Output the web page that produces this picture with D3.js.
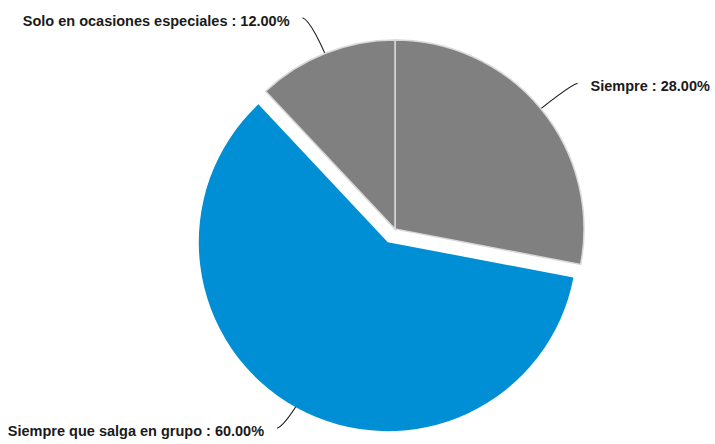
<!DOCTYPE html>
<html>
<head>
<meta charset="utf-8">
<script src="https://cdn.jsdelivr.net/npm/d3@7"></script>
<style>
  body { margin: 0; background: #fff; }
  svg { display: block; }
  .lbl { font-family: "Liberation Sans", Arial, sans-serif; font-weight: bold; font-size: 14.5px; fill: #1a1a1a; }
</style>
</head>
<body>
<svg id="pie" width="715" height="444"></svg>
<script>
var categories = ["Siempre", "Siempre que salga en grupo", "Solo en ocasiones especiales"];
var values = [28, 60, 12];
var colors = ["#808080", "#008fd4", "#808080"];
var exploded = [false, true, false];

var svg = d3.select("#pie"),
    cx = 395, cy = 229,
    radius = 189,
    explode = 15;

var data = categories.map(function(c, i) {
  return {name: c, value: values[i], color: colors[i], out: exploded[i]};
});

var pie = d3.pie().sort(null).value(function(d) { return d.value; });
var arc = d3.arc().innerRadius(0).outerRadius(radius);

var arcs = pie(data);

function midAngle(d) { return (d.startAngle + d.endAngle) / 2; }

function offset(d) {
  if (!d.data.out) return [0, 0];
  var a = midAngle(d);
  return [Math.sin(a) * explode, -Math.cos(a) * explode];
}

// point on the radius through the slice middle, from the pie centre (no explode)
function polar(d, r) {
  var a = midAngle(d);
  return [cx + Math.sin(a) * r, cy - Math.cos(a) * r];
}

var g = svg.append("g");

// leader lines first, the pie covers their inner end
arcs.forEach(function(d) {
  var a = midAngle(d),
      right = Math.sin(a) > 0,
      down = Math.cos(a) < 0,
      p0 = polar(d, radius * 0.85),
      p1 = polar(d, radius + 35),
      p2 = [p1[0] + (right ? 10 : -10), p1[1] + (down ? 3 : -3)];

  g.append("path")
      .attr("d", "M" + p0 + "Q" + p1 + " " + p2)
      .attr("fill", "none")
      .attr("stroke", "#222")
      .attr("stroke-width", 1.2);

  g.append("text")
      .attr("class", "lbl")
      .attr("x", p2[0] + (right ? 13 : -13))
      .attr("y", p2[1] + 8)
      .attr("text-anchor", right ? "start" : "end")
      .text(d.data.name + " : " + d.data.value.toFixed(2) + "%");
});

g.selectAll(".slice")
  .data(arcs)
  .enter()
  .append("path")
    .attr("class", "slice")
    .attr("transform", function(d) {
      var o = offset(d);
      return "translate(" + (cx + o[0]) + "," + (cy + o[1]) + ")";
    })
    .attr("d", arc)
    .attr("fill", function(d) { return d.data.color; })
    .attr("stroke", function(d) { return d.data.out ? "none" : "#d8d8d8"; })
    .attr("stroke-width", 1.5);
</script>
</body>
</html>
